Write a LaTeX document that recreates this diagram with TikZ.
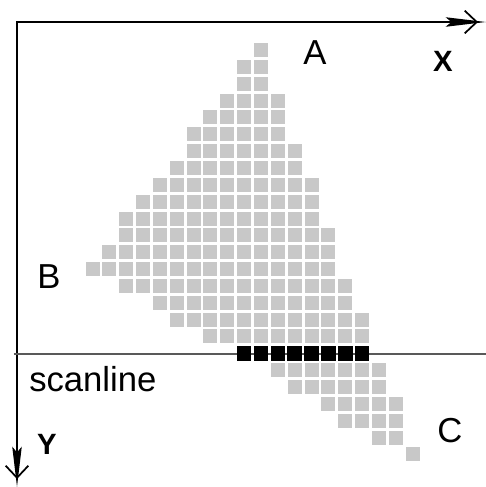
\documentclass[tikz,border=0pt]{standalone}
\usepackage{fontspec}
\setmainfont{Liberation Sans}
\usetikzlibrary{arrows.meta}
\definecolor{cellgray}{RGB}{200,200,200}

\begin{document}
\begin{tikzpicture}[x=0.75pt, y=-0.75pt,
  pix/.style={fill=cellgray, inner sep=0pt, minimum size=10.5pt},
  hit/.style={pix, fill=black, minimum size=11pt},
  lbl/.style={inner sep=0pt, font=\fontsize{26}{30}\selectfont},
  axlbl/.style={inner sep=0pt, font=\fontsize{22}{26}\selectfont\bfseries},
  axis/.style={line width=2pt, -{Straight Barb[length=9pt,width=17pt,line width=1.3pt,sep=-24pt]Stealth[length=30pt,width=7pt,inset=4pt]}}]
\useasboundingbox (0,0) rectangle (486,487);
% axes and scanline
\coordinate (O) at (17,22);
\coordinate (xtip) at (486,22);
\coordinate (ytip) at (17,487);
\coordinate (sl-w) at (14,354);
\coordinate (sl-e) at (486,354);
\draw[axis, line cap=rect] (O) -- (xtip);
\draw[axis, line cap=rect] (O) -- (ytip);
\draw[black!65, line width=0.8pt] (sl-w) -- (sl-e);
% pixels of the triangle: row / first column / last column
\foreach \r/\a/\b in {0/10/10, 1/9/10, 2/9/10, 3/8/11, 4/7/11, 5/6/11, 6/6/12,
    7/5/12, 8/4/13, 9/3/13, 10/2/13, 11/2/14, 12/1/14, 13/0/14, 14/2/15,
    15/4/15, 16/5/16, 17/7/16, 19/11/17, 20/12/17, 21/14/18, 22/15/18,
    23/17/18, 24/19/19} {
  \foreach \c in {\a,...,\b}
    \node[pix] (p\r-\c) at (92.5+16.85*\c, 50+16.85*\r) {};
}
% pixels on the scanline
\foreach \c in {9,...,16}
  \node[hit] (p18-\c) at (92.5+16.85*\c, 50+16.85*18) {};
% labels
\node[lbl, anchor=base] (A) at (315,64) {A};
\node[lbl, anchor=base] (B) at (49,288) {B};
\node[lbl, anchor=base] (C) at (450,442) {C};
\node[lbl, anchor=base west] (scan) at (29,391) {scanline};
\node[axlbl, anchor=base] (xl) at (443,71) {X};
\node[axlbl, anchor=base] (yl) at (47,454) {Y};
\end{tikzpicture}
\end{document}
